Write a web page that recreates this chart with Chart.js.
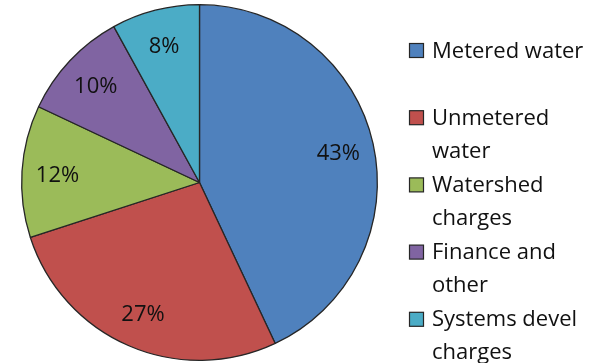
<!DOCTYPE html>
<html>
<head>
<meta charset="utf-8">
<script src="https://cdn.jsdelivr.net/npm/chart.js@4/dist/chart.umd.min.js"></script>
<style>
  html, body { margin: 0; padding: 0; background: #ffffff; }
  #wrap { position: relative; width: 602px; height: 363px; }
</style>
</head>
<body>
<div id="wrap"><canvas id="c" width="602" height="363"></canvas></div>
<script>
// Revenue sources, share of total (%)
const categories = ["Metered water", "Unmetered water", "Watershed charges", "Finance and other", "Systems devel charges"];
const shares = [43, 27, 12, 10, 8];
const sliceColors = ["#4F81BD", "#C0504D", "#9BBB59", "#8064A2", "#4BACC6"];

const FONT = "'Open Sans', 'DejaVu Sans', sans-serif";
const FONT_SIZE = 22;

// Percentage labels placed inside each slice along its bisector
const sliceLabels = {
  id: "sliceLabels",
  afterDatasetsDraw(chart) {
    const ctx = chart.ctx;
    const meta = chart.getDatasetMeta(0);
    ctx.save();
    ctx.font = FONT_SIZE + "px " + FONT;
    ctx.fillStyle = "#111111";
    ctx.textAlign = "center";
    ctx.textBaseline = "middle";
    meta.data.forEach((arc, i) => {
      const p = arc.getProps(["x", "y", "startAngle", "endAngle", "outerRadius"], true);
      const mid = (p.startAngle + p.endAngle) / 2;
      const r = p.outerRadius * 0.8;
      ctx.fillText(shares[i] + "%", p.x + Math.cos(mid) * r, p.y + Math.sin(mid) * r + 2);
    });
    ctx.restore();
  }
};

// Legend at the right: square swatch plus word-wrapped category name
const sideLegend = {
  id: "sideLegend",
  afterDraw(chart) {
    const ctx = chart.ctx;
    const ds = chart.data.datasets[0];
    const boxX = 409.5, box = 14, textX = 432, maxW = 168;
    const firstBase = 57.5, itemGap = 67.2, lineGap = 33;
    ctx.save();
    ctx.font = FONT_SIZE + "px " + FONT;
    ctx.textBaseline = "alphabetic";
    ctx.textAlign = "left";
    chart.data.labels.forEach((label, i) => {
      const base = firstBase + i * itemGap;
      ctx.fillStyle = ds.backgroundColor[i];
      ctx.fillRect(boxX, base - box, box, box);
      ctx.strokeStyle = "#262626";
      ctx.lineWidth = 1.2;
      ctx.strokeRect(boxX, base - box, box, box);
      // wrap words into lines that fit the legend column
      const words = label.split(" ");
      const lines = [];
      let cur = "";
      words.forEach(w => {
        const test = cur ? cur + " " + w : w;
        if (cur && ctx.measureText(test).width > maxW) { lines.push(cur); cur = w; }
        else cur = test;
      });
      if (cur) lines.push(cur);
      ctx.fillStyle = "#111111";
      lines.forEach((ln, k) => ctx.fillText(ln, textX, base + k * lineGap));
    });
    ctx.restore();
  }
};

new Chart(document.getElementById("c"), {
  type: "pie",
  data: {
    labels: categories,
    datasets: [{
      data: shares,
      backgroundColor: sliceColors,
      borderColor: "#262626",
      borderWidth: 1.3
    }]
  },
  options: {
    responsive: false,
    animation: false,
    layout: { padding: { left: 21, right: 224, top: 4, bottom: 2 } },
    plugins: {
      legend: { display: false },
      tooltip: { enabled: false }
    }
  },
  plugins: [sliceLabels, sideLegend]
});
</script>
</body>
</html>
